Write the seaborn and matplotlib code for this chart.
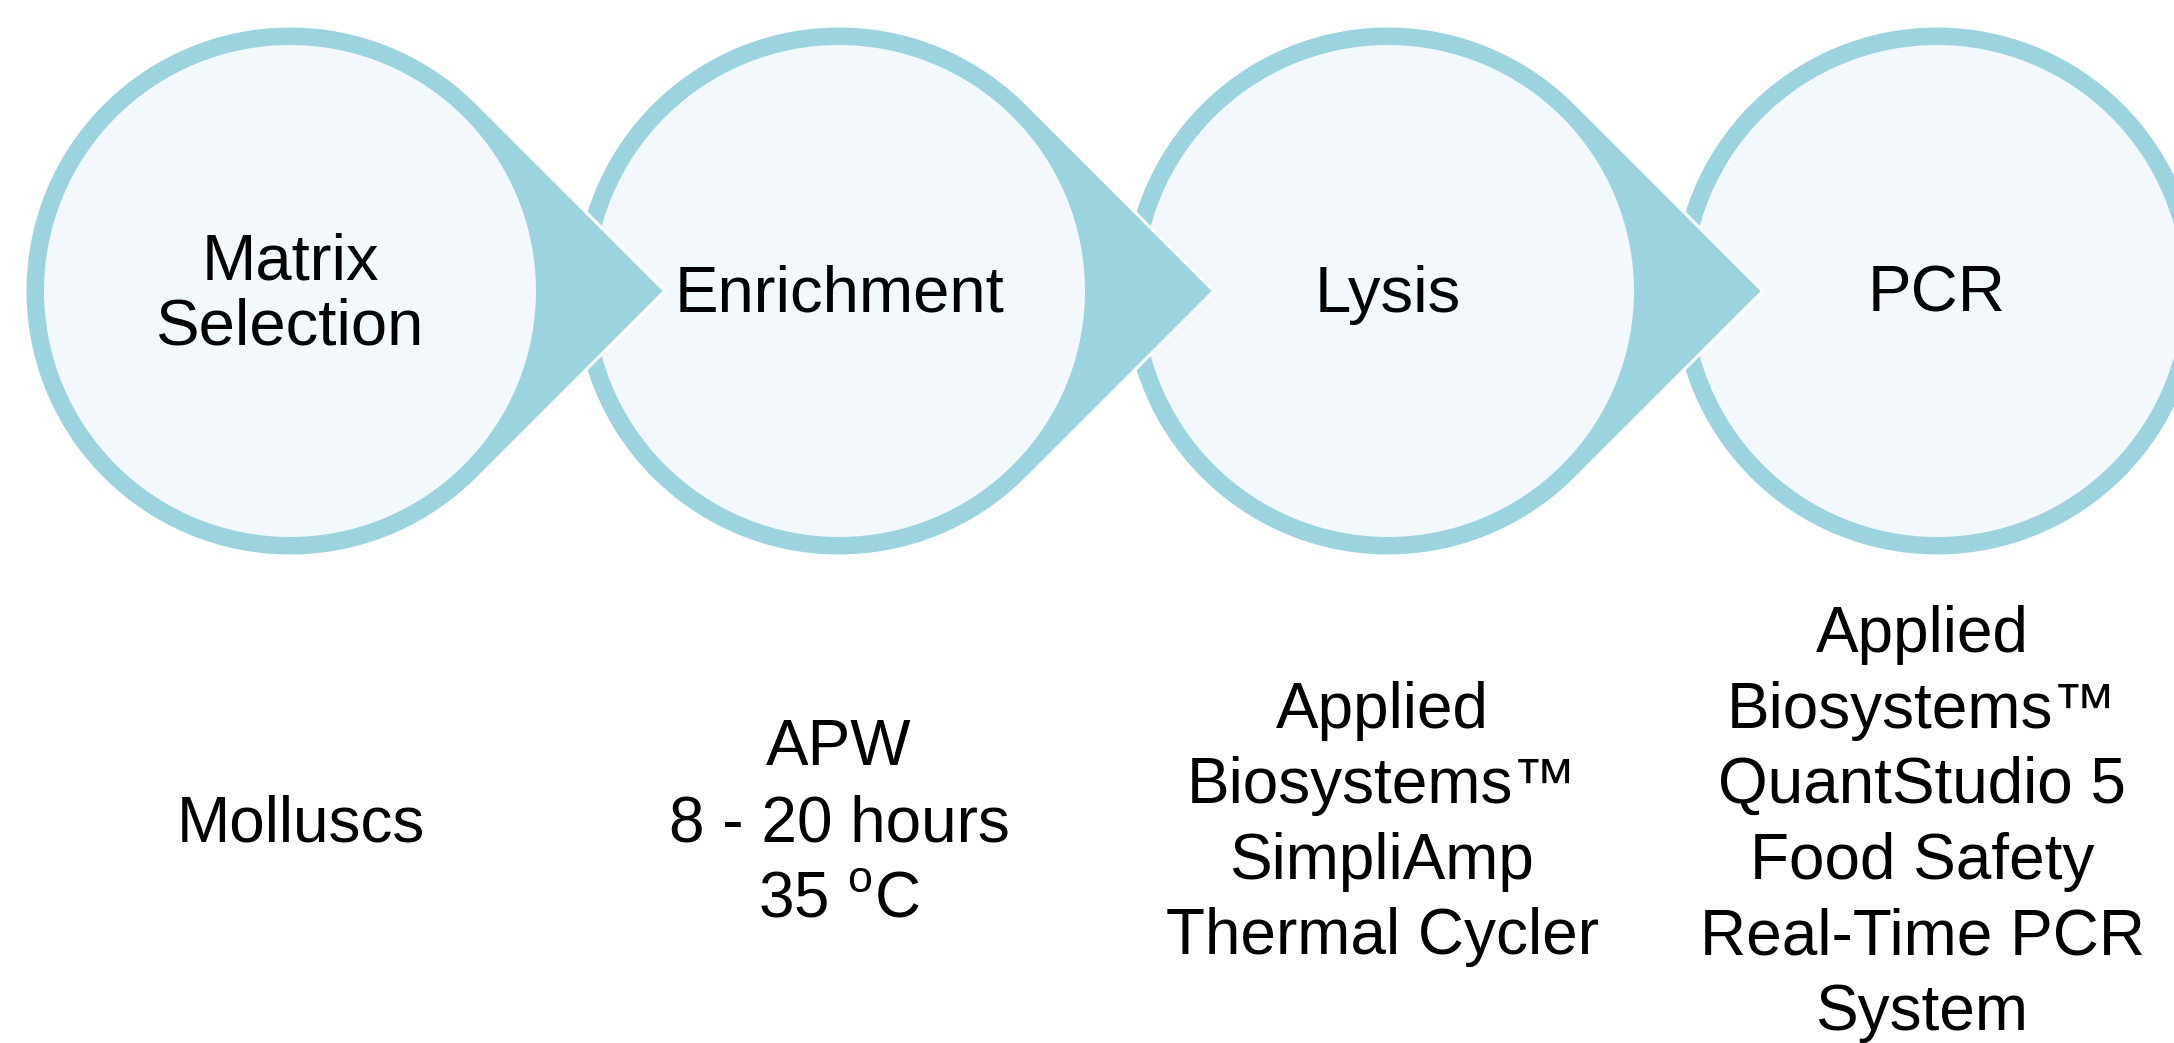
import numpy as np
import seaborn as sns
import matplotlib.pyplot as plt
from matplotlib.patches import Polygon, Circle

# workflow steps
steps = ['Matrix\nSelection', 'Enrichment', 'Lysis', 'PCR']
details = [
    'Molluscs',
    'APW\n8 - 20 hours\n35 $^{\\rm o}$C',
    'Applied\nBiosystems\u2122\nSimpliAmp\nThermal Cycler',
    'Applied\nBiosystems\u2122\nQuantStudio 5\nFood Safety\nReal-Time PCR\nSystem',
]

ring_color = '#9BD3DE'
fill_color = '#F2F8FB'

sns.set_style('white')
plt.rcParams['font.family'] = ['Liberation Sans', 'DejaVu Sans']
plt.rcParams['mathtext.fontset'] = 'custom'
plt.rcParams['mathtext.rm'] = 'Liberation Sans'

W, H = 2174, 1043
fig = plt.figure(figsize=(W / 100, H / 100), dpi=100)
ax = fig.add_axes([0, 0, 1, 1])
ax.set_xlim(0, W)
ax.set_ylim(H, 0)
ax.set_aspect('equal')
ax.axis('off')

x0, step = 290, 549
cy = 291
r_out, r_in = 265, 246
detail_y = 824
detail_dx = [11, 0, -6, -15]

centers = [x0 + i * step for i in range(len(steps))]
n = len(steps)

# draw right to left so each arrow tip sits over the next circle
for i in reversed(range(n)):
    cx = centers[i]
    z = 2 + 2 * (n - 1 - i)
    if i < n - 1:
        theta = np.linspace(np.pi / 4, 2 * np.pi - np.pi / 4, 300)
        arc = np.column_stack([cx + r_out * np.cos(theta), cy + r_out * np.sin(theta)])
        tip = np.array([[cx + r_out * np.sqrt(2), cy]])
        ax.add_patch(Polygon(np.vstack([tip, arc]), closed=True, facecolor=ring_color,
                             edgecolor='white', linewidth=2.2, zorder=z))
    else:
        ax.add_patch(Circle((cx, cy), r_out, facecolor=ring_color,
                            edgecolor='white', linewidth=2.2, zorder=z))
    ax.add_patch(Circle((cx, cy), r_in, facecolor=fill_color, edgecolor='none',
                        zorder=z + 1))
    ax.text(cx, cy + 4, steps[i], ha='center', va='center', fontsize=47,
            color='black', linespacing=1.1, zorder=20)
    ax.text(cx + detail_dx[i], detail_y, details[i], ha='center', va='center',
            fontsize=46, color='black', linespacing=1.33, zorder=20)

fig.savefig('out.png', dpi=100, facecolor='white')
